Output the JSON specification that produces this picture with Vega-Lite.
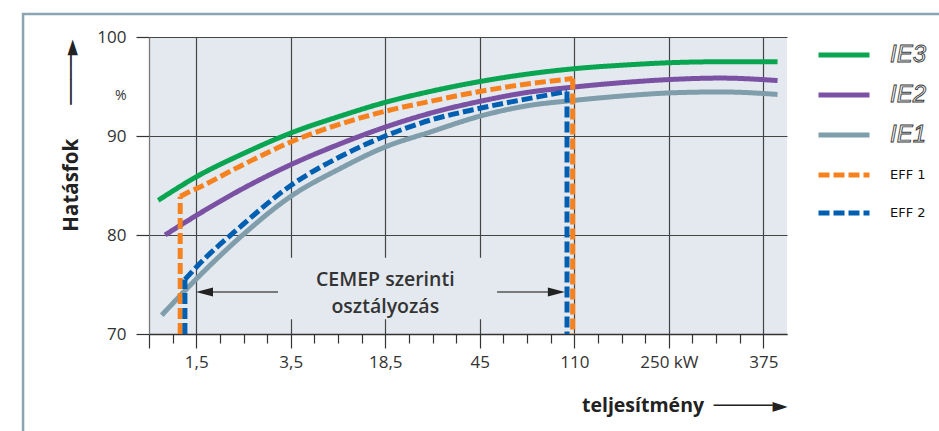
{
  "$schema": "https://vega.github.io/schema/vega-lite/v6.json",
  "width": 638,
  "height": 297,
  "autosize": {"type": "none"},
  "padding": {"left": 149, "top": 37, "right": 152, "bottom": 97},
  "background": "white",
  "config": {
    "view": {"fill": "#e3e9ef", "stroke": null},
    "font": "Open Sans"
  },
  "datasets": {
    "curves": [
      {"s": "IE3", "i": 0.39, "v": 83.5}, {"s": "IE3", "i": 2.02, "v": 85.9}, {"s": "IE3", "i": 4.06, "v": 88.3},
      {"s": "IE3", "i": 6.0, "v": 90.3}, {"s": "IE3", "i": 8.08, "v": 92.0}, {"s": "IE3", "i": 10.0, "v": 93.4},
      {"s": "IE3", "i": 11.9, "v": 94.5}, {"s": "IE3", "i": 14.0, "v": 95.5}, {"s": "IE3", "i": 16.0, "v": 96.25},
      {"s": "IE3", "i": 18.0, "v": 96.8}, {"s": "IE3", "i": 20.35, "v": 97.2}, {"s": "IE3", "i": 22.0, "v": 97.4},
      {"s": "IE3", "i": 24.2, "v": 97.5}, {"s": "IE3", "i": 26.6, "v": 97.5},
      {"s": "IE2", "i": 0.68, "v": 80.0}, {"s": "IE2", "i": 2.02, "v": 82.0}, {"s": "IE2", "i": 4.06, "v": 84.8},
      {"s": "IE2", "i": 6.0, "v": 87.1}, {"s": "IE2", "i": 8.08, "v": 89.2}, {"s": "IE2", "i": 10.0, "v": 90.9},
      {"s": "IE2", "i": 11.9, "v": 92.3}, {"s": "IE2", "i": 14.0, "v": 93.5}, {"s": "IE2", "i": 16.0, "v": 94.4},
      {"s": "IE2", "i": 18.0, "v": 94.95}, {"s": "IE2", "i": 20.35, "v": 95.45}, {"s": "IE2", "i": 22.0, "v": 95.7},
      {"s": "IE2", "i": 24.2, "v": 95.85}, {"s": "IE2", "i": 26.6, "v": 95.6},
      {"s": "IE1", "i": 0.54, "v": 71.9}, {"s": "IE1", "i": 2.02, "v": 75.6}, {"s": "IE1", "i": 4.06, "v": 80.2},
      {"s": "IE1", "i": 6.0, "v": 83.9}, {"s": "IE1", "i": 8.08, "v": 86.7}, {"s": "IE1", "i": 10.0, "v": 88.9},
      {"s": "IE1", "i": 11.9, "v": 90.4}, {"s": "IE1", "i": 14.0, "v": 92.0}, {"s": "IE1", "i": 16.0, "v": 93.05},
      {"s": "IE1", "i": 18.0, "v": 93.6}, {"s": "IE1", "i": 20.35, "v": 94.1}, {"s": "IE1", "i": 22.0, "v": 94.35},
      {"s": "IE1", "i": 24.2, "v": 94.45}, {"s": "IE1", "i": 26.6, "v": 94.2},
      {"s": "EFF 1", "i": 1.32, "v": 83.9}, {"s": "EFF 1", "i": 1.6, "v": 84.25}, {"s": "EFF 1", "i": 2.02, "v": 84.7},
      {"s": "EFF 1", "i": 4.06, "v": 87.2}, {"s": "EFF 1", "i": 6.0, "v": 89.4}, {"s": "EFF 1", "i": 8.08, "v": 91.2},
      {"s": "EFF 1", "i": 10.0, "v": 92.5}, {"s": "EFF 1", "i": 11.9, "v": 93.5}, {"s": "EFF 1", "i": 14.0, "v": 94.5},
      {"s": "EFF 1", "i": 16.0, "v": 95.25}, {"s": "EFF 1", "i": 17.93, "v": 95.8},
      {"s": "EFF 2", "i": 1.52, "v": 75.5}, {"s": "EFF 2", "i": 2.02, "v": 76.8}, {"s": "EFF 2", "i": 3.85, "v": 80.8},
      {"s": "EFF 2", "i": 6.0, "v": 85.0}, {"s": "EFF 2", "i": 8.08, "v": 87.9}, {"s": "EFF 2", "i": 10.0, "v": 90.0},
      {"s": "EFF 2", "i": 11.9, "v": 91.6}, {"s": "EFF 2", "i": 14.0, "v": 92.8}, {"s": "EFF 2", "i": 16.0, "v": 93.75},
      {"s": "EFF 2", "i": 17.69, "v": 94.5}
    ],
    "legs": [
      {"s": "EFF 1", "i": 1.32, "v": 70, "v2": 83.9},
      {"s": "EFF 1", "i": 17.93, "v": 95.8, "v2": 70},
      {"s": "EFF 2", "i": 1.52, "v": 70, "v2": 75.5},
      {"s": "EFF 2", "i": 17.69, "v": 94.5, "v2": 70}
    ],
    "frame": [{"i": -5.33, "i2": 45, "v": 102.32, "v2": 0}],
    "cover": [{"i": 5.54, "i2": 14.64, "v": 71.5, "v2": 77.7}],
    "arrows": [{"i": 5.46, "i2": 2.5, "v": 74.24}, {"i": 14.73, "i2": 17.1, "v": 74.24}],
    "heads": [{"dir": "left", "i": 1.99, "v": 74.24}, {"dir": "right", "i": 17.6, "v": 74.24}],
    "note": [{"i": 10, "v": 75.45}]
  },
  "encoding": {
    "x": {
      "field": "i", "type": "quantitative",
      "scale": {"domain": [0, 27], "nice": false, "zero": false},
      "axis": {
        "values": [0, 1, 2, 3, 4, 5, 6, 7, 8, 9, 10, 11, 12, 13, 14, 15, 16, 17, 18, 19, 20, 21, 22, 23, 24, 25, 26],
        "labelExpr": "datum.value == 2 ? '1,5' : datum.value == 6 ? '3,5' : datum.value == 10 ? '18,5' : datum.value == 14 ? '45' : datum.value == 18 ? '110' : datum.value == 22 ? '\u2003\u2002250 kW' : datum.value == 26 ? '375' : ''",
        "labelOverlap": false,
        "labelFlush": false,
        "labelFontSize": 17,
        "labelColor": "#333",
        "labelPadding": 6,
        "grid": true,
        "gridColor": "#444",
        "gridWidth": 1.2,
        "gridOpacity": {"condition": {"test": "indexof([0, 2, 6, 10, 14, 18, 22, 26], datum.value) >= 0", "value": 1}, "value": 0},
        "tickColor": "#333",
        "tickWidth": 1.2,
        "tickSize": 14,
        "tickDash": {"condition": {"test": "indexof([0, 2, 6, 10, 14, 18, 22, 26], datum.value) >= 0", "value": [20, 0]}, "value": [9, 30]},
        "domainColor": "#333",
        "domainWidth": 1.5,
        "title": "teljesítmény\u2002─────►",
        "titleFont": "Open Sans, DejaVu Sans",
        "titleFontSize": 19.5,
        "titleFontWeight": "bold",
        "titleColor": "#222",
        "titleAlign": "right",
        "titleBaseline": "alphabetic",
        "titleX": 638,
        "titleY": 77
      }
    },
    "y": {
      "field": "v", "type": "quantitative",
      "scale": {"domain": [70, 100], "nice": false, "zero": false},
      "axis": {
        "values": [70, 80, 90, 94.1, 100],
        "labelExpr": "datum.value == 94.1 ? '%' : datum.label",
        "labelFontSize": {"condition": {"test": "datum.value == 94.1", "value": 14}, "value": 17},
        "labelColor": "#333",
        "labelPadding": 10,
        "grid": true,
        "gridColor": "#444",
        "gridWidth": 1.2,
        "gridOpacity": {"condition": {"test": "datum.value == 94.1", "value": 0}, "value": 1},
        "tickColor": "#333",
        "tickWidth": 1.2,
        "tickSize": 13,
        "tickOpacity": {"condition": {"test": "datum.value == 94.1", "value": 0}, "value": 1},
        "domainColor": "#777",
        "domainWidth": 1,
        "title": "Hatásfok\u2003\u2002\u2009────►",
        "titleFont": "Open Sans, DejaVu Sans",
        "titleFontSize": 20.5,
        "titleFontWeight": "bold",
        "titleColor": "#222",
        "titleAngle": 270,
        "titleAlign": "right",
        "titleBaseline": "alphabetic",
        "titleX": -72,
        "titleY": 2
      }
    }
  },
  "layer": [
    {
      "data": {"name": "frame"},
      "mark": {"type": "rect", "filled": false, "stroke": "#8aa4b2", "strokeWidth": 2.5, "clip": false},
      "encoding": {"x2": {"field": "i2"}, "y2": {"field": "v2"}}
    },
    {
      "data": {"name": "cover"},
      "mark": {"type": "rect", "fill": "#e3e9ef"},
      "encoding": {"x2": {"field": "i2"}, "y2": {"field": "v2"}}
    },
    {
      "data": {"name": "curves"},
      "mark": {"type": "line", "interpolate": "monotone", "strokeWidth": 5},
      "encoding": {
        "color": {
          "field": "s", "type": "nominal",
          "scale": {"domain": ["IE3", "IE2", "IE1", "EFF 1", "EFF 2"], "range": ["#0aa550", "#7b52a3", "#7f9dab", "#f5821f", "#005fb0"]},
          "legend": {
            "title": null, "orient": "none", "legendX": 667, "legendY": -10,
            "symbolType": "stroke", "symbolSize": 2601, "symbolStrokeWidth": 5,
            "labelFont": "Liberation Sans", "labelFontSize": 24, "labelFontStyle": "italic",
            "labelOffset": 18, "rowPadding": -10, "labelColor": "#333",
            "encode": {
              "labels": {"update": {
                "fontSize": {"signal": "indexof(['EFF 1', 'EFF 2'], datum.value) >= 0 ? 13 : 24"},
                "fontStyle": {"signal": "indexof(['EFF 1', 'EFF 2'], datum.value) >= 0 ? 'normal' : 'italic'"},
                "font": {"signal": "indexof(['EFF 1', 'EFF 2'], datum.value) >= 0 ? 'DejaVu Sans' : 'Liberation Sans'"},
                "fill": {"signal": "indexof(['EFF 1', 'EFF 2'], datum.value) >= 0 ? '#111' : '#f5f7f8'"},
                "stroke": {"signal": "indexof(['EFF 1', 'EFF 2'], datum.value) >= 0 ? 'transparent' : '#3a3a3a'"},
                "strokeWidth": {"value": 0.9}
              }},
              "symbols": {"update": {
                "strokeDash": {"signal": "indexof(['EFF 1', 'EFF 2'], datum.value) >= 0 ? [21, 9] : [1, 0]"}
              }}
            }
          }
        },
        "strokeDash": {
          "field": "s", "type": "nominal",
          "scale": {"domain": ["IE3", "IE2", "IE1", "EFF 1", "EFF 2"], "range": [[1, 0], [1, 0], [1, 0], [11, 4], [11, 4]]},
          "legend": {
            "title": null, "orient": "none", "legendX": 667, "legendY": -10,
            "symbolType": "stroke", "symbolSize": 2601, "symbolStrokeWidth": 5,
            "labelFont": "Liberation Sans", "labelFontSize": 24, "labelFontStyle": "italic",
            "labelOffset": 18, "rowPadding": -10, "labelColor": "#333"
          }
        }
      }
    },
    {
      "data": {"name": "legs"},
      "mark": {"type": "rule", "strokeWidth": 5},
      "encoding": {
        "y2": {"field": "v2"},
        "color": {"field": "s", "type": "nominal", "legend": null},
        "strokeDash": {"field": "s", "type": "nominal", "legend": null}
      }
    },
    {
      "data": {"name": "arrows"},
      "mark": {"type": "rule", "color": "#555", "strokeWidth": 1.3},
      "encoding": {"x2": {"field": "i2"}}
    },
    {
      "data": {"name": "heads"},
      "mark": {"type": "point", "filled": true, "color": "#222", "size": 1156, "opacity": 1},
      "encoding": {
        "shape": {"field": "dir", "type": "nominal", "scale": {"domain": ["left", "right"], "range": ["M0,0 L1,-0.27 L1,0.27 Z", "M0,0 L-1,-0.27 L-1,0.27 Z"]}, "legend": null}
      }
    },
    {
      "data": {"name": "note"},
      "mark": {"type": "text", "text": ["CEMEP szerinti", "osztályozás"], "font": "Open Sans", "fontSize": 19.5, "fontWeight": 600, "color": "#333", "lineHeight": 27, "baseline": "middle", "align": "center"}
    }
  ]
}
